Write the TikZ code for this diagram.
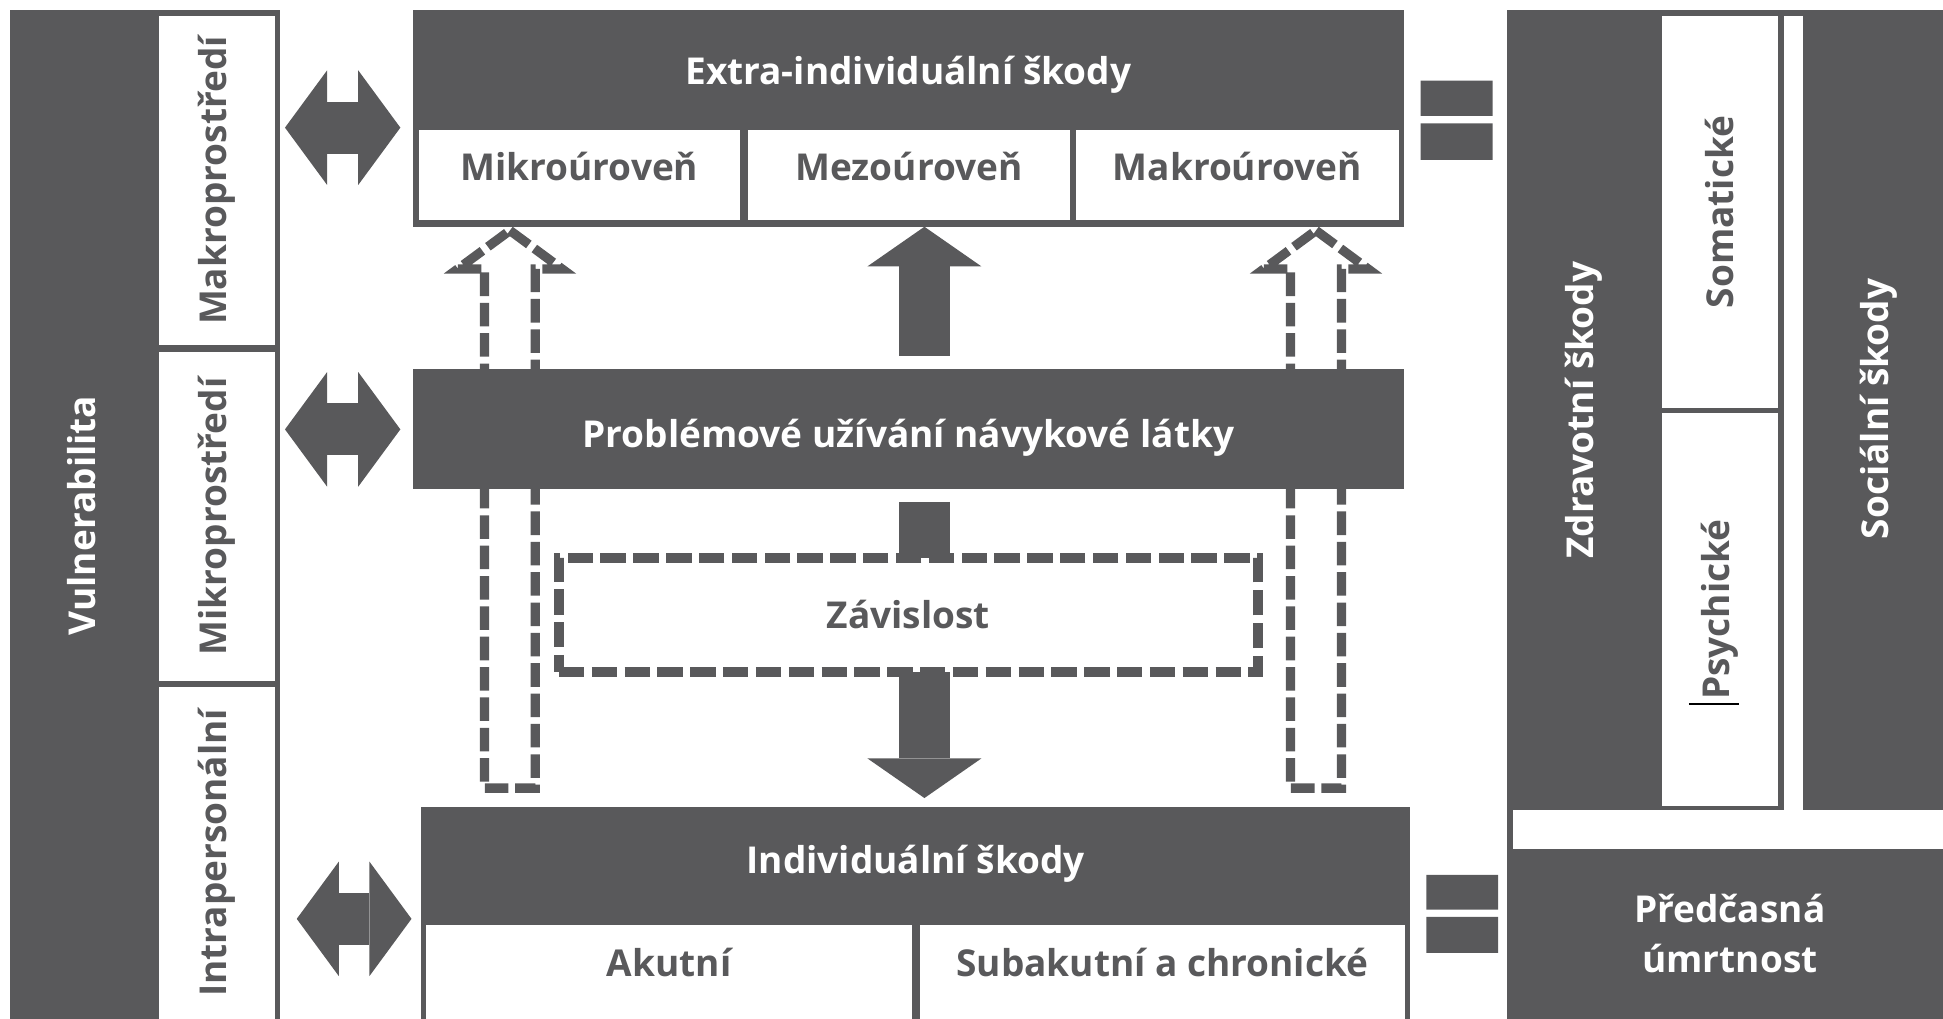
\documentclass[tikz,border=0pt]{standalone}
\usepackage{fontspec}
\setmainfont{Open Sans}
\usetikzlibrary{arrows.meta}
\definecolor{skoda}{RGB}{89,89,91}
\newcommand\lbfont{\bfseries\fontsize{17}{23}\selectfont}
\tikzset{
  darkbox/.style={fill=skoda, inner sep=0pt, outer sep=0pt},
  lightbox/.style={fill=white, text=skoda, font=\lbfont, inner sep=0pt, outer sep=0pt},
  wtext/.style={text=white, font=\lbfont, inner sep=0pt},
  dtext/.style={text=skoda, font=\lbfont, inner sep=0pt},
  blockarr/.style={skoda, line width=0.82cm, -{Triangle[length=0.64cm 0 0, width=1.84cm 0 0, line width=0pt 0 0]}},
  dblarr/.style={skoda, line width=0.84cm, {Triangle[length=0.68cm 0 0, width=1.85cm 0 0, line width=0pt 0 0]}-{Triangle[length=0.68cm 0 0, width=1.85cm 0 0, line width=0pt 0 0]}},
  hollowarr/.style={skoda, line width=0.15cm, dash pattern=on 0.38cm off 0.11cm},
}
\begin{document}
\begin{tikzpicture}[x=0.02cm, y=-0.02cm]
  \useasboundingbox (0,0) rectangle (1568,822);

  \coordinate (tipL) at (411.5,186);
  \coordinate (tipR) at (1062,186);
  \draw[hollowarr] (tipL) -- ++(42,31) -- ++(-21.5,0) -- ++(0,419) -- ++(-41,0) -- ++(0,-419) -- ++(-21.5,0) -- cycle;
  \draw[hollowarr] (tipR) -- ++(42,31) -- ++(-21.5,0) -- ++(0,419) -- ++(-41,0) -- ++(0,-419) -- ++(-21.5,0) -- cycle;

  \node[darkbox, minimum width=4.36cm, minimum height=16.28cm] (vulncol) at (117,415) {};
  \node[wtext, rotate=90] (vuln) at (66,416) {Vulnerabilita};
  \node[lightbox, rotate=90, minimum width=5.31cm, minimum height=1.87cm] (makro) at (175.25,145.75) {Makroprostředí};
  \node[lightbox, rotate=90, minimum width=5.31cm, minimum height=1.87cm] (mikro) at (175.25,416.75) {Mikroprostředí};
  \node[lightbox, rotate=90, minimum width=5.35cm, minimum height=1.87cm] (intra) at (175.25,688.25) {Intrapersonální};

  \node[darkbox, minimum width=16cm, minimum height=3.5cm] (extra) at (733,95.5) {};
  \node[wtext, anchor=base] (extratxt) at (733,68) {Extra-individuální škody};
  \node[lightbox, minimum width=5.18cm, minimum height=1.45cm] (mikrour) at (467.5,141.25) {};
  \node[lightbox, minimum width=5.2cm, minimum height=1.45cm] (mezour) at (733.5,141.25) {};
  \node[lightbox, minimum width=5.22cm, minimum height=1.45cm] (makrour) at (998.5,141.25) {};
  \node[dtext, anchor=base] (mikrotxt) at (467.5,146) {Mikroúroveň};
  \node[dtext, anchor=base] (mezotxt) at (733.5,146) {Mezoúroveň};
  \node[dtext, anchor=base] (makrotxt) at (998.5,146) {Makroúroveň};

  \node[darkbox, minimum width=16cm, minimum height=1.94cm] (prob) at (733,346.5) {};
  \node[wtext, anchor=base] (probtxt) at (733,361) {Problémové užívání návykové látky};

  \node[darkbox, minimum width=15.96cm, minimum height=3.42cm] (indiv) at (739,736.5) {};
  \node[wtext, anchor=base] (indivtxt) at (739,705) {Individuální škody};
  \node[lightbox, minimum width=7.84cm, minimum height=1.51cm] (akut) at (540,784.25) {};
  \node[lightbox, minimum width=7.84cm, minimum height=1.51cm] (subak) at (938,784.25) {};
  \node[dtext, anchor=base] (akuttxt) at (540,788) {Akutní};
  \node[dtext, anchor=base] (subaktxt) at (938,788) {Subakutní a chronické};

  \node[darkbox, minimum width=7.04cm, minimum height=16.28cm] (rightcol) at (1392,415) {};
  \node[lightbox, minimum width=6.94cm, minimum height=0.62cm] (gap) at (1394.5,669.5) {};
  \node[lightbox, minimum width=0.3cm, minimum height=13.44cm] (strip) at (1447.5,349) {};
  \node[lightbox, rotate=90, minimum width=6.32cm, minimum height=1.88cm] (soma) at (1388,171) {Somatické};
  \node[lightbox, rotate=90, minimum width=6.34cm, minimum height=1.88cm] (psych) at (1388,492) {Psychické};
  \draw[black, line width=0.03cm] (1363,568) -- (1403,568);
  \node[wtext, rotate=90] (zdrav) at (1278,331) {Zdravotní škody};
  \node[wtext, rotate=90] (social) at (1516,330) {Sociální škody};
  \node[wtext, align=center] (predc) at (1396,753) {Předčasná\\úmrtnost};

  \draw[dblarr, shorten <=0.08cm, shorten >=0.2cm] (vulncol.east |- 0,103) -- (extra.west |- 0,103);
  \draw[dblarr, shorten <=0.08cm, shorten >=0.2cm] (vulncol.east |- prob.west) -- (prob.west);
  \draw[dblarr, shorten <=0.27cm, shorten >=0.16cm] (vulncol.east |- 0,741.5) -- (indiv.west |- 0,741.5);

  \draw[blockarr, shorten <=0.22cm] (prob.north -| 746,0) -- (extra.south -| 746,0);
  \draw[blockarr, shorten <=0.2cm, shorten >=0.14cm] (prob.south -| 746,0) -- (indiv.north -| 746,0);

  \node[draw=skoda, line width=0.16cm, dash pattern=on 0.41cm off 0.12cm, fill=white, text=skoda, font=\lbfont, minimum width=11.28cm, minimum height=1.84cm] (zav) at (733,496) {Závislost};

  \fill[skoda] (1146.5,65) rectangle (1204.5,93.6) (1146.5,99.5) rectangle (1204.5,129);
  \fill[skoda] (1151,706) rectangle (1209,734) (1151,740) rectangle (1209,769);
\end{tikzpicture}
\end{document}
